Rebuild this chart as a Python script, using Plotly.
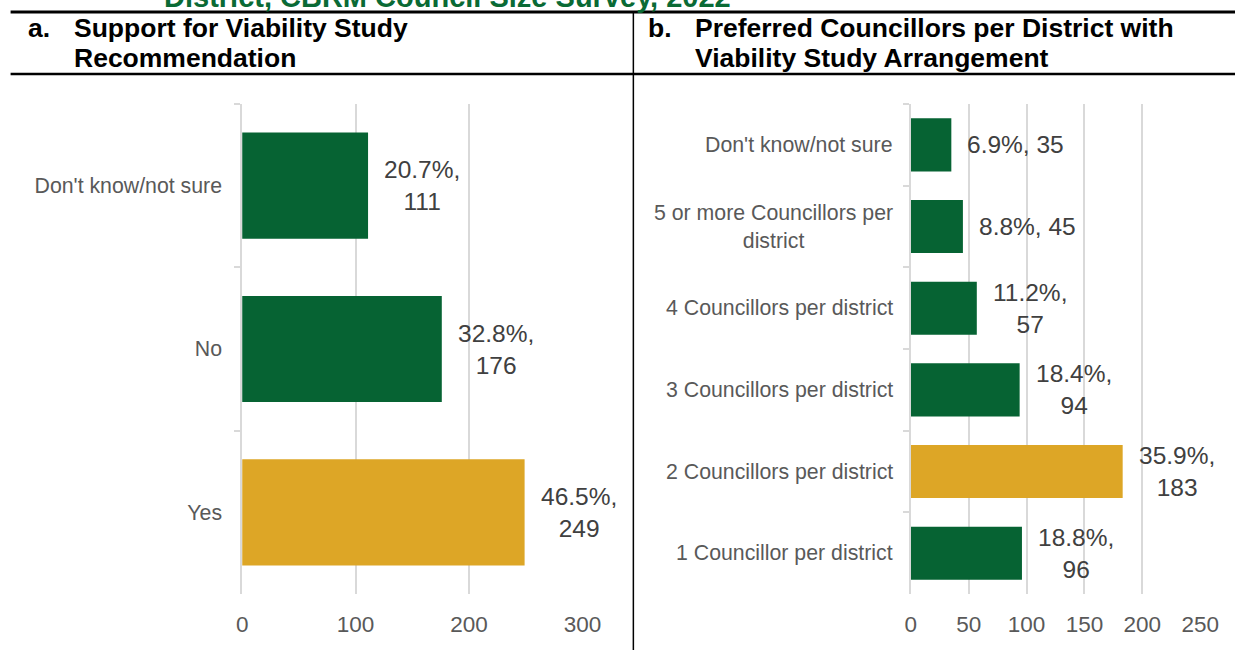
import plotly.graph_objects as go

# Panel a: support for the viability study recommendation
support_labels = ["Don't know/not sure", "No", "Yes"]
support_counts = [111, 176, 249]
support_pcts = [20.7, 32.8, 46.5]
support_ticks = [0, 100, 200, 300]

# Panel b: preferred councillors per district
pref_labels = [
    "Don't know/not sure",
    "5 or more Councillors per<br>district",
    "4 Councillors per district",
    "3 Councillors per district",
    "2 Councillors per district",
    "1 Councillor per district",
]
pref_counts = [35, 45, 57, 94, 183, 96]
pref_pcts = [6.9, 8.8, 11.2, 18.4, 35.9, 18.8]
pref_ticks = [0, 50, 100, 150, 200, 250]

W, H = 1254, 650
GREEN = "#066333"
GOLD = "#DDA626"
GRID = "#D9D9D9"
TICK_TEXT = "#595959"
LABEL_TEXT = "#404040"
FONT = "Liberation Sans, Arial, sans-serif"

# horizontal page-position correction (measured from a test render)
SX, OX = 0.982, 5.4


def px_x(v):
    return (v - OX) / SX / W


def px_y(v):
    return 1 - v / H


def bar_colors(counts):
    top = max(counts)
    return [GOLD if c == top else GREEN for c in counts]


def value_label(pct, n):
    sep = ", " if n < 50 else ",<br>"
    return f"{pct}%{sep}{n}"


fig = go.Figure()
fig.add_trace(go.Bar(
    x=support_counts, y=support_labels, orientation="h",
    marker=dict(color=bar_colors(support_counts), line=dict(width=0)),
    xaxis="x", yaxis="y", hoverinfo="skip",
))
fig.add_trace(go.Bar(
    x=pref_counts, y=pref_labels, orientation="h",
    marker=dict(color=bar_colors(pref_counts), line=dict(width=0)),
    xaxis="x2", yaxis="y2", hoverinfo="skip",
))

xaxis_common = dict(
    showgrid=True, gridcolor=GRID, gridwidth=1.6, zeroline=False,
    showline=False, ticks="", tickfont=dict(size=22.5, color=TICK_TEXT),
    ticklabelstandoff=14, fixedrange=True,
)
yaxis_common = dict(
    type="category", autorange="reversed", showgrid=False, zeroline=False,
    showline=True, linecolor=GRID, linewidth=1.6,
    ticks="outside", tickson="boundaries", ticklen=6, tickcolor=GRID, tickwidth=1.6,
    fixedrange=True,
)

annotations = []

# bar value labels
for lab, n, p in zip(support_labels, support_counts, support_pcts):
    annotations.append(dict(
        x=n, y=lab, xref="x", yref="y", xanchor="left", xshift=14,
        text=value_label(p, n), align="center", showarrow=False,
        font=dict(size=24.5, color=LABEL_TEXT, family=FONT),
    ))
for lab, n, p in zip(pref_labels, pref_counts, pref_pcts):
    annotations.append(dict(
        x=n, y=lab, xref="x2", yref="y2", xanchor="left", xshift=14,
        text=value_label(p, n), align="center", showarrow=False,
        font=dict(size=24.5, color=LABEL_TEXT, family=FONT),
    ))
    # centred category labels for panel b
    annotations.append(dict(
        x=0, y=lab, xref="x2 domain", yref="y2", xanchor="right", xshift=-16,
        text=lab, align="center", showarrow=False,
        font=dict(size=21.3, color=TICK_TEXT, family=FONT),
    ))

# page title (running off the top edge) and panel headers
annotations.append(dict(
    x=px_x(162), y=px_y(-3), xref="paper", yref="paper",
    xanchor="left", yanchor="middle", showarrow=False,
    text="<b>District, CBRM Council Size Survey, 2022</b>",
    font=dict(size=29, color="#0A6A35", family=FONT),
))
headers = [
    (25, 28, "a."), (72, 28, "Support for Viability Study"), (72, 58, "Recommendation"),
    (647, 28, "b."), (694, 28, "Preferred Councillors per District with"),
    (694, 58, "Viability Study Arrangement"),
]
for hx, hy, txt in headers:
    annotations.append(dict(
        x=px_x(hx), y=px_y(hy), xref="paper", yref="paper",
        xanchor="left", yanchor="middle", showarrow=False,
        text=f"<b>{txt}</b>", font=dict(size=26.5, color="#000000", family=FONT),
    ))

shapes = [
    dict(type="line", xref="paper", yref="paper", x0=px_x(10), x1=1,
         y0=px_y(12), y1=px_y(12), line=dict(color="#000000", width=3)),
    dict(type="line", xref="paper", yref="paper", x0=px_x(10), x1=1,
         y0=px_y(74), y1=px_y(74), line=dict(color="#000000", width=2.5)),
    dict(type="line", xref="paper", yref="paper", x0=px_x(634), x1=px_x(634),
         y0=px_y(12), y1=0, line=dict(color="#000000", width=1.5)),
]

fig.update_layout(
    width=W, height=H, margin=dict(l=0, r=0, t=0, b=0),
    paper_bgcolor="white", plot_bgcolor="white",
    showlegend=False, bargap=0.35,
    font=dict(family=FONT, color=TICK_TEXT),
    xaxis=dict(domain=[px_x(242), px_x(583)], range=[0, 300], tickvals=support_ticks,
               anchor="y", **xaxis_common),
    yaxis=dict(domain=[px_y(594), px_y(104)], anchor="x",
               tickfont=dict(size=21.3, color=TICK_TEXT), ticklabelstandoff=14,
               **yaxis_common),
    xaxis2=dict(domain=[px_x(912), px_x(1202)], range=[0, 250], tickvals=pref_ticks,
                anchor="y2", **xaxis_common),
    yaxis2=dict(domain=[px_y(594), px_y(104)], anchor="x2", showticklabels=False,
                **yaxis_common),
    annotations=annotations,
    shapes=shapes,
)

fig.write_html("out.html", config={"displayModeBar": False})
